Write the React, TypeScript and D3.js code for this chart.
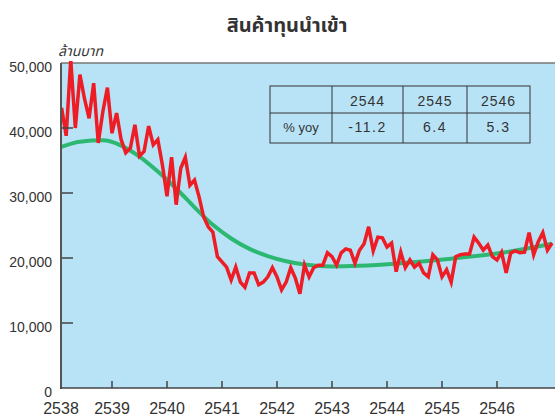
import React from "react";
import * as d3 from "d3";

// monthly import values, million baht, 2538-2546
const capitalImports = [
  43100, 38800, 50500, 40000, 48200, 44500, 41500, 46900, 37700, 42500, 46200, 39200,
  42300, 38200, 36200, 36900, 40500, 35700, 36400, 40300, 37400, 38200, 34300, 29500,
  35500, 28200, 33800, 35500, 31200, 32000, 29400, 26300, 24800, 24000, 20200, 19400,
  18600, 16600, 18600, 16300, 15500, 17700, 17700, 15900, 16300, 17100, 18500, 17100,
  15100, 16300, 18500, 16900, 14500, 18900, 17100, 18500, 18900, 18900, 20800, 20200,
  18900, 20800, 21400, 21200, 19200, 21200, 22200, 24800, 21100, 23200, 23100, 21700,
  22300, 17900, 20900, 18500, 19700, 18600, 19200, 17700, 17100, 20500, 19700, 17100,
  18200, 16300, 20200, 20500, 20600, 20600, 23200, 22300, 21200, 22000, 20200, 19700,
  20900, 17700, 20800, 21100, 20800, 20900, 23900, 20500, 22500, 23900, 21200, 22300,
];

// trend line read at selected months
const trendMonths = [0, 4, 9, 13, 17, 21, 25, 29, 33, 37, 41, 45, 49, 53, 59, 65, 74, 85, 96, 107];
const trendValues = [
  37100, 37900, 38100, 37300, 35600, 33300, 30700, 27800, 25100, 23000, 21400, 20300,
  19500, 19000, 18700, 18800, 19200, 19900, 20800, 22200,
];

const yearTicks = [2538, 2539, 2540, 2541, 2542, 2543, 2544, 2545, 2546];
const valueTicks = [0, 10000, 20000, 30000, 40000, 50000];

const tableYears = ["2544", "2545", "2546"];
const tableYoy = ["-11.2", "6.4", "5.3"];

const W = 555;
const H = 417;
const left = 61;
const top = 63;
const bottom = 388;

const latin = "'Liberation Sans', Arial, Helvetica, sans-serif";
const thai = "'Noto Sans Thai', 'Noto Sans', 'DejaVu Sans', sans-serif";

const App = () => {
  const x = d3.scaleLinear().domain([2538, 2547]).range([57, 552]);
  const y = d3.scaleLinear().domain([0, 50000]).range([bottom, top]);
  const monthX = (i: number) => x(2538 + (i + 1) / 12);

  const redLine = d3
    .line<number>()
    .x((d, i) => monthX(i))
    .y((d) => y(d));

  const trend = trendMonths.map((m, i) => [monthX(m), y(trendValues[i])] as [number, number]);
  const greenLine = d3
    .line<[number, number]>()
    .x((d) => d[0])
    .y((d) => d[1])
    .curve(d3.curveMonotoneX);

  // table layout
  const tx = [270, 332, 403, 467, 530];
  const ty = [86, 113, 143];

  return (
    <svg
      width={W}
      height={H}
      style={{ position: "absolute", left: 0, top: 0, background: "#fff" }}
    >
      <defs>
        <clipPath id="plot">
          <rect x={left} y={top - 2} width={W - left} height={bottom - top + 2} />
        </clipPath>
      </defs>
      <text
        x={287}
        y={32}
        textAnchor="middle"
        fontFamily={thai}
        fontWeight="bold"
        fontSize={20}
        fill="#333"
      >
        สินค้าทุนนำเข้า
      </text>
      <text x={58} y={56} fontFamily={thai} fontStyle="italic" fontSize={14} fill="#333">
        ล้านบาท
      </text>

      <rect x={left} y={top} width={W - left} height={bottom - top} fill="#b8e3f7" />
      <line x1={left} x2={W} y1={top} y2={top} stroke="#777" strokeWidth={1.5} />

      <g clipPath="url(#plot)">
        <path
          d={greenLine(trend) || ""}
          fill="none"
          stroke="#2db872"
          strokeWidth={4}
        />
        <path
          d={redLine(capitalImports) || ""}
          fill="none"
          stroke="#ee1c25"
          strokeWidth={3.5}
          strokeLinejoin="miter"
        />
      </g>

      {/* y axis */}
      {valueTicks.map((v) => (
        <g key={v}>
          {v > 0 && v < 50000 && (
            <line x1={left} x2={left + 12} y1={y(v)} y2={y(v)} stroke="#444" strokeWidth={1.5} />
          )}
          <text
            x={52}
            y={y(v) + 9}
            textAnchor="end"
            fontFamily={latin}
            fontSize={14}
            fill="#333"
          >
            {d3.format(",")(v)}
          </text>
        </g>
      ))}
      <line x1={left} x2={left} y1={top} y2={bottom + 1} stroke="#555" strokeWidth={2} />

      {/* x axis */}
      <line x1={left - 1} x2={W} y1={bottom} y2={bottom} stroke="#444" strokeWidth={1.5} />
      {yearTicks.map((yr) => {
        const px = Math.max(x(yr), left);
        return (
          <g key={yr}>
            {yr > 2538 && (
              <line x1={px} x2={px} y1={bottom - 7} y2={bottom} stroke="#444" strokeWidth={1.5} />
            )}
            <text
              x={px}
              y={414}
              textAnchor="middle"
              fontFamily={latin}
              fontSize={16}
              fill="#333"
            >
              {yr}
            </text>
          </g>
        );
      })}

      {/* table */}
      <g stroke="#333" strokeWidth={1} fill="none">
        <rect x={tx[0]} y={ty[0]} width={tx[4] - tx[0]} height={ty[2] - ty[0]} />
        <line x1={tx[0]} x2={tx[4]} y1={ty[1]} y2={ty[1]} />
        {tx.slice(1, 4).map((c) => (
          <line key={c} x1={c} x2={c} y1={ty[0]} y2={ty[2]} />
        ))}
      </g>
      {tableYears.map((yr, i) => (
        <text
          key={yr}
          x={(tx[i + 1] + tx[i + 2]) / 2}
          y={106}
          textAnchor="middle"
          fontFamily={latin}
          fontSize={14}
          letterSpacing={1}
          fill="#333"
        >
          {yr}
        </text>
      ))}
      <text
        x={(tx[0] + tx[1]) / 2}
        y={132}
        textAnchor="middle"
        fontFamily={latin}
        fontSize={13}
        fill="#333"
      >
        % yoy
      </text>
      {tableYoy.map((v, i) => (
        <text
          key={i}
          x={(tx[i + 1] + tx[i + 2]) / 2}
          y={132}
          textAnchor="middle"
          fontFamily={latin}
          fontSize={14}
          letterSpacing={1.5}
          fill="#333"
        >
          {v}
        </text>
      ))}
    </svg>
  );
};

export default App;
